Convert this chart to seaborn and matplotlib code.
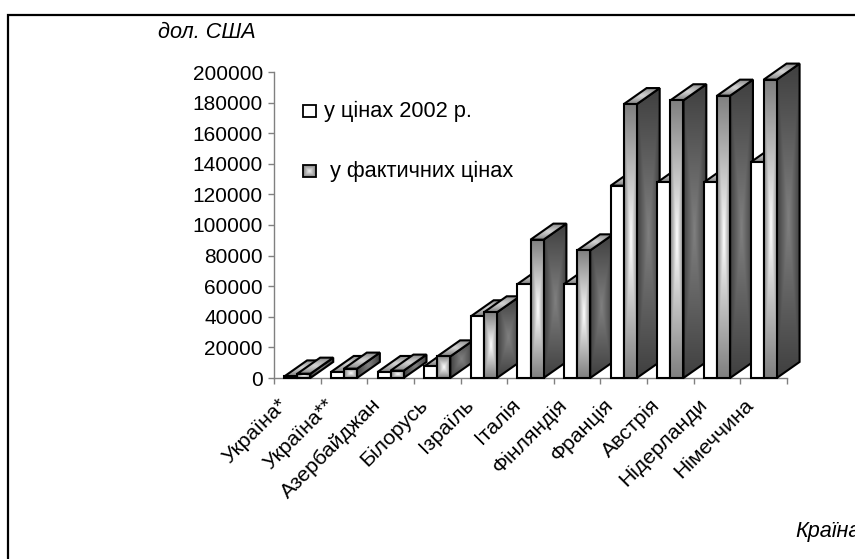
import numpy as np
import pandas as pd
import matplotlib
matplotlib.use("Agg")
import matplotlib.pyplot as plt
from matplotlib.patches import Polygon, Rectangle
import seaborn as sns

countries = ["Україна*", "Україна**", "Азербайджан", "Білорусь", "Ізраїль", "Італія",
             "Фінляндія", "Франція", "Австрія", "Нідерланди", "Німеччина"]
real_prices = [1000, 3900, 3900, 7600, 40300, 61400, 61400, 125700, 127900, 127900, 141000]
actual_prices = [2800, 6100, 4800, 14100, 42900, 90400, 83400, 179000, 181500, 184500, 195000]
series_names = ["у цінах 2002 р.", "у фактичних цінах"]
y_ticks = list(range(0, 200001, 20000))

W, H = 855, 559
DEPTH_X = 0.49
DEPTH_Y = 10500

sns.set_theme(style="white")
plt.rcParams["font.family"] = ["Liberation Sans", "DejaVu Sans"]


### box shaped gradient, light in the middle and dark towards the edges
def boxGradient(edge, mid):
    u = np.linspace(-1, 1, 81)
    uu, vv = np.meshgrid(u, u)
    t = np.maximum(np.abs(uu), np.abs(vv))[..., None]
    rgb = np.array(mid) * (1 - t) + np.array(edge) * t
    return rgb / 255.0


### fill a polygon with a gradient image, clipped to the polygon
def gradientPoly(ax, pts, edge, mid, z, lw=1.5):
    pts = np.array(pts)
    im = ax.imshow(boxGradient(edge, mid), aspect="auto", interpolation="bilinear", zorder=z,
                   extent=(pts[:, 0].min(), pts[:, 0].max(), pts[:, 1].min(), pts[:, 1].max()))
    poly = Polygon(pts, closed=True, facecolor="none", edgecolor="black", lw=lw, zorder=z + 0.1,
                   clip_on=False, joinstyle="miter")
    ax.add_patch(poly)
    im.set_clip_path(poly)
    im.set_clip_box(ax.figure.bbox)


### turn a flat seaborn bar into a 3d looking one
def extrude(ax, bar, shaded, z):
    x0, x1 = bar.get_x(), bar.get_x() + bar.get_width()
    h = bar.get_height()
    side = [(x1, 0), (x1 + DEPTH_X, DEPTH_Y), (x1 + DEPTH_X, h + DEPTH_Y), (x1, h)]
    top = [(x0, h), (x1, h), (x1 + DEPTH_X, h + DEPTH_Y), (x0 + DEPTH_X, h + DEPTH_Y)]
    front = [(x0, 0), (x1, 0), (x1, h), (x0, h)]
    bar.set_visible(False)
    if shaded:
        gradientPoly(ax, side, (64, 64, 64), (128, 128, 128), z)
        gradientPoly(ax, top, (128, 128, 128), (215, 215, 215), z + 0.2)
        gradientPoly(ax, front, (128, 128, 128), (255, 255, 255), z + 0.4)
    else:
        gradientPoly(ax, side, (255, 255, 255), (255, 255, 255), z)
        gradientPoly(ax, top, (128, 128, 128), (215, 215, 215), z + 0.2)
        gradientPoly(ax, front, (255, 255, 255), (255, 255, 255), z + 0.4)


def main():
    df = pd.DataFrame({
        "country": countries * 2,
        "value": real_prices + actual_prices,
        "series": [series_names[0]] * len(countries) + [series_names[1]] * len(countries),
    })

    fig = plt.figure(figsize=(W / 100, H / 100), dpi=100)
    ax = fig.add_axes([274 / W, 1 - 378 / H, (787 - 274) / W, (378 - 72) / H])
    sns.barplot(data=df, x="country", y="value", hue="series", width=0.56, gap=0, legend=False, ax=ax)

    n = len(countries)
    bars = [p for p in ax.patches if isinstance(p, Rectangle)]
    ax.set_xlim(-0.5, n - 0.5)
    ax.set_ylim(0, 200000)
    for i in range(n):
        extrude(ax, bars[i], False, 3 + i * 2)
        extrude(ax, bars[n + i], True, 4 + i * 2)

    ax.set_yticks(y_ticks)
    ax.set_yticklabels([str(v) for v in y_ticks], fontsize=15, color="black")
    ax.set_xticks(np.arange(-0.5, n, 1))
    ax.set_xticklabels([""] * (n + 1))
    ax.tick_params(axis="both", length=4, width=1, color="#808080", bottom=True, left=True, pad=4)
    ax.set_xlabel("")
    ax.set_ylabel("")
    for s in ["top", "right"]:
        ax.spines[s].set_visible(False)
    for s in ["left", "bottom"]:
        ax.spines[s].set_color("#808080")
        ax.spines[s].set_linewidth(1)
    ax.set_zorder(2)

    # category labels, rotated and ending just under their slot
    for i, name in enumerate(countries):
        ax.annotate(name, xy=(i, 0), xycoords="data", xytext=(-13, -24), textcoords="offset pixels",
                    rotation=45, rotation_mode="anchor", ha="right", va="center", fontsize=15.3,
                    color="black", annotation_clip=False)

    # hand placed legend like the original, swatches go through the same gradient code
    to_data = ax.transData.inverted()
    for name, py, tx, shaded in [(series_names[0], 111, 324, False), (series_names[1], 171, 330, True)]:
        corners = [(303, H - py - 6), (316, H - py - 6), (316, H - py + 6), (303, H - py + 6)]
        swatch = to_data.transform(corners)
        if shaded:
            gradientPoly(ax, swatch, (128, 128, 128), (240, 240, 240), 40, lw=1.3)
        else:
            gradientPoly(ax, swatch, (255, 255, 255), (255, 255, 255), 40, lw=1.3)
        fig.text(tx / W, 1 - py / H, name, fontsize=15.7, va="center", ha="left", color="black")

    fig.text(158 / W, 1 - 33 / H, "дол. США", fontsize=15.6, style="italic", va="center", ha="left",
             color="black")
    fig.text(795 / W, 1 - 531 / H, "Країна", fontsize=15.6, style="italic", va="center", ha="left",
             color="black")

    # frame around the whole chart, right and bottom sides run off the picture
    fig.add_artist(Rectangle((7.5 / W, -20 / H), 900 / W, (H + 20 - 14.5) / H, facecolor="none",
                             edgecolor="black", lw=1.6, transform=fig.transFigure, zorder=10))
    plt.savefig("out.png", dpi=100)


if __name__ == '__main__':
    main()
